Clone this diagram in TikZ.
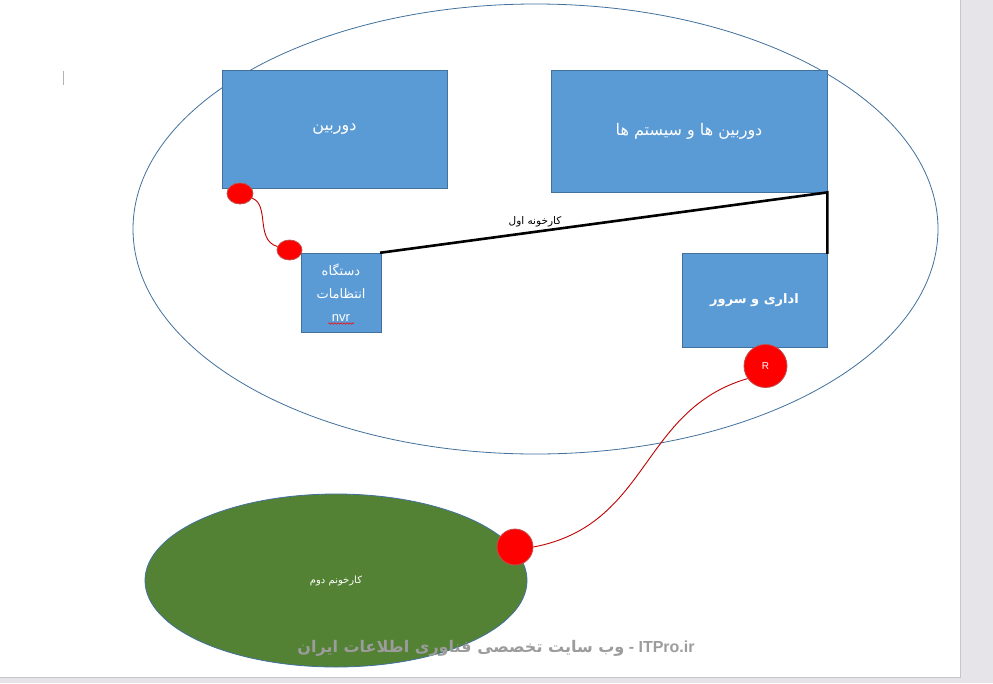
\documentclass[tikz,border=0pt]{standalone}
\usepackage{fontspec}
\setmainfont{Liberation Sans}
\newfontfamily\arabicfont[Script=Arabic]{DejaVu Sans}
\TeXXeTstate=1
\usetikzlibrary{shapes.geometric,decorations.pathmorphing}
\definecolor{boxfill}{HTML}{5B9BD5}
\definecolor{boxline}{HTML}{41719C}
\definecolor{dotred}{HTML}{FF0000}
\definecolor{dotline}{HTML}{C0504D}
\definecolor{wire}{HTML}{C00000}
\definecolor{plantgreen}{HTML}{548235}
\definecolor{pagegray}{HTML}{E6E4E8}
\definecolor{markgray}{HTML}{9C9C9C}
\tikzset{
  bluebox/.style={draw=boxline, line width=0.8pt, fill=boxfill, text=white, inner sep=0pt, align=center},
  reddot/.style={ellipse, draw=dotline, line width=0.8pt, fill=dotred, inner sep=0pt},
  redwire/.style={draw=wire, line width=0.9pt},
  blackwire/.style={draw=black, line width=2.6pt},
  fa/.style={font=\arabicfont\fontsize{#1}{#1}\selectfont},
}
\begin{document}
\begin{tikzpicture}[x=1pt,y=-1pt]
\useasboundingbox (0,0) rectangle (993,683);
% page
\fill[pagegray] (0,0) rectangle (993,683);
\fill[white] (0,0) rectangle (960,677);
\draw[gray!45, line width=0.8pt] (960,0) -- (960,677) -- (0,677);
\draw[gray!60, line width=0.7pt] (63,71) -- (63,85);
% first plant
\node[ellipse, draw=boxline, line width=0.8pt, minimum width=805pt, minimum height=450pt, inner sep=0pt] (plant1) at (535.5,229) {};
% boxes
\node[bluebox, minimum width=225pt, minimum height=118pt, fa=16] (cam) at (334.5,129) {\beginR دوربین\endR};
\node[bluebox, minimum width=276pt, minimum height=122pt, fa=16] (camsys) at (689,131) {\beginR دوربین ها و سیستم ها\endR};
\node[bluebox, minimum width=80pt, minimum height=79pt, font=\fontsize{13}{23}\selectfont] (nvr) at (341,292.5)
  {{\arabicfont\beginR دستگاه\endR}\\{\arabicfont\beginR انتظامات\endR}\\nvr};
\node[bluebox, minimum width=145pt, minimum height=94pt, fa=13] (office) at (754.5,300) {\bfseries\beginR اداری و سرور\endR};
\draw[red, line width=0.5pt, decorate, decoration={snake, amplitude=0.8pt, segment length=3pt}]
  ([xshift=-13pt,yshift=-31pt]nvr.center) -- ([xshift=13pt,yshift=-31pt]nvr.center);
% black links
\draw[blackwire, line cap=rect] (nvr.north east) -- (camsys.south east) -- (office.north east);
\node[fa=10.5, text=black] (link) at (535,222) {\beginR کارخونه اول\endR};
% red dots and wires
\node[reddot, minimum width=26pt, minimum height=21pt] (d1) at (240,193.5) {};
\node[reddot, minimum width=25pt, minimum height=20pt] (d2) at (289.5,250) {};
\draw[redwire] (d1) .. controls (270,205) and (255,240) .. (d2);
% second plant
\node[ellipse, draw=boxline, line width=0.8pt, fill=plantgreen, minimum width=382pt, minimum height=173pt, inner sep=0pt, text=white, fa=10] (plant2) at (336,580.5) {\beginR کارخونم دوم\endR};
\node[circle, draw=dotline, line width=0.8pt, fill=dotred, minimum size=43pt, inner sep=0pt, text=white, font=\fontsize{10}{10}\selectfont] (router) at (765.5,366) {R};
\node[circle, draw=dotline, line width=0.8pt, fill=dotred, minimum size=36pt, inner sep=0pt] (d3) at (515,547) {};
\draw[redwire] (router.215) .. controls (640,410) and (650,525) .. (d3.east);
% watermark
\node[text=markgray, font=\bfseries\fontsize{16}{16}\selectfont] (mark) at (496,648)
  {{\arabicfont\beginR وب سایت تخصصی فناوری اطلاعات ایران\endR} - ITPro.ir};
\end{tikzpicture}
\end{document}
